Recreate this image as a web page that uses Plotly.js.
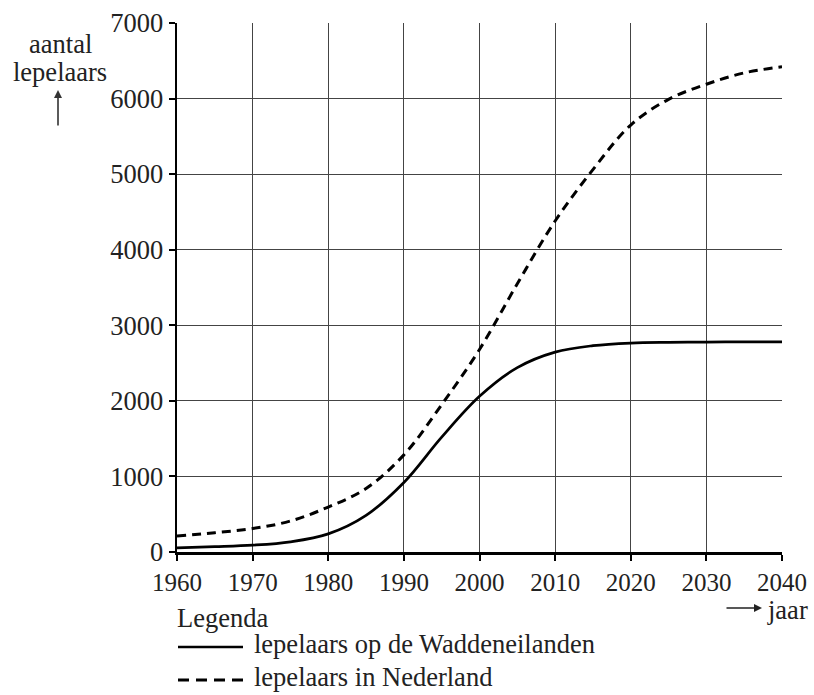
<!DOCTYPE html>
<html>
<head>
<meta charset="utf-8">
<script src="https://cdn.plot.ly/plotly-3.0.1.min.js"></script>
<style>
  html, body { margin: 0; padding: 0; background: #fff; }
  #chart { width: 814px; height: 695px; }
</style>
</head>
<body>
<div id="chart"></div>
<script>
// ---- data ----
var years = [1960, 1965, 1970, 1975, 1980, 1985, 1990, 1995, 2000, 2005, 2010, 2015, 2020, 2025, 2030, 2035, 2040];
var wadden = [55, 70, 90, 135, 240, 485, 920, 1520, 2060, 2440, 2645, 2730, 2765, 2775, 2778, 2780, 2780];
var nederland = [210, 255, 310, 410, 595, 840, 1285, 1950, 2680, 3550, 4380, 5060, 5650, 5990, 6190, 6340, 6420];
var xTicks = [1960, 1970, 1980, 1990, 2000, 2010, 2020, 2030, 2040];
var yTicks = [0, 1000, 2000, 3000, 4000, 5000, 6000, 7000];
var seriesNames = ['lepelaars op de Waddeneilanden', 'lepelaars in Nederland'];
var legendTitle = 'Legenda';
var yTitleLines = ['aantal', 'lepelaars'];
var xTitle = 'jaar';

// ---- layout geometry (pixels) ----
var W = 814, H = 695;
var M = {l: 177, r: 32, t: 23, b: 143};
var pw = W - M.l - M.r, ph = H - M.t - M.b;
function px(X) { return (X - M.l) / pw; }
function py(Y) { return (H - M.b - Y) / ph; }

var FONT = 'Liberation Serif';
var TXT = '#222';
var FS = 26.5;

var traces = [
  {x: years, y: wadden, type: 'scatter', mode: 'lines', name: seriesNames[0],
   line: {color: '#000', width: 2.7, shape: 'spline', smoothing: 1}},
  {x: years, y: nederland, type: 'scatter', mode: 'lines', name: seriesNames[1],
   line: {color: '#000', width: 3, dash: '9px,6px', shape: 'spline', smoothing: 1}}
];

function txt(t, X, Y, anchor) {
  return {xref: 'paper', yref: 'paper', x: px(X), y: py(Y), text: t, showarrow: false,
    xanchor: anchor, yanchor: 'middle',
    font: {family: FONT, size: FS, color: TXT}};
}

var layout = {
  width: W, height: H,
  margin: M,
  paper_bgcolor: '#fff', plot_bgcolor: '#fff',
  showlegend: false,
  font: {family: FONT, size: FS, color: TXT},
  xaxis: {
    range: [1960, 2040], tickmode: 'array', tickvals: xTicks,
    ticktext: xTicks.map(String),
    showgrid: true, gridcolor: '#444', gridwidth: 1,
    showline: true, linecolor: '#000', linewidth: 2.5,
    ticks: 'outside', ticklen: 6, tickwidth: 2, tickcolor: '#000',
    tickfont: {family: FONT, size: 25, color: TXT},
    zeroline: false, fixedrange: true
  },
  yaxis: {
    range: [0, 7000], tickmode: 'array', tickvals: yTicks,
    ticktext: yTicks.map(String),
    showgrid: true, gridcolor: '#444', gridwidth: 1,
    showline: true, linecolor: '#000', linewidth: 2.5,
    ticks: 'outside', ticklen: 6, tickwidth: 2, tickcolor: '#000',
    tickfont: {family: FONT, size: 26.5, color: TXT},
    zeroline: false, fixedrange: true
  },
  shapes: [
    // legend samples
    {type: 'line', xref: 'paper', yref: 'paper', x0: px(178), x1: px(243), y0: py(647), y1: py(647),
     line: {color: '#000', width: 2.7}},
    {type: 'line', xref: 'paper', yref: 'paper', x0: px(178), x1: px(243), y0: py(680), y1: py(680),
     line: {color: '#000', width: 3, dash: '11px,7px'}}
  ],
  annotations: [
    txt(yTitleLines[0], 60, 44, 'center'),
    txt(yTitleLines[1], 60, 72, 'center'),
    {xref: 'paper', yref: 'paper', x: px(58), y: py(90), ax: 0, ay: 37, text: '', showarrow: true,
     arrowhead: 2, arrowsize: 1, arrowwidth: 1.6, arrowcolor: '#333'},
    {xref: 'paper', yref: 'paper', x: px(762), y: py(608), ax: -37, ay: 0, text: '', showarrow: true,
     arrowhead: 2, arrowsize: 1, arrowwidth: 1.6, arrowcolor: '#222'},
    txt(xTitle, 765, 610, 'left'),
    txt(legendTitle, 175, 618, 'left'),
    txt(seriesNames[0], 252, 644, 'left'),
    txt(seriesNames[1], 252, 677, 'left')
  ]
};

Plotly.newPlot('chart', traces, layout, {displayModeBar: false, staticPlot: true});
</script>
</body>
</html>
